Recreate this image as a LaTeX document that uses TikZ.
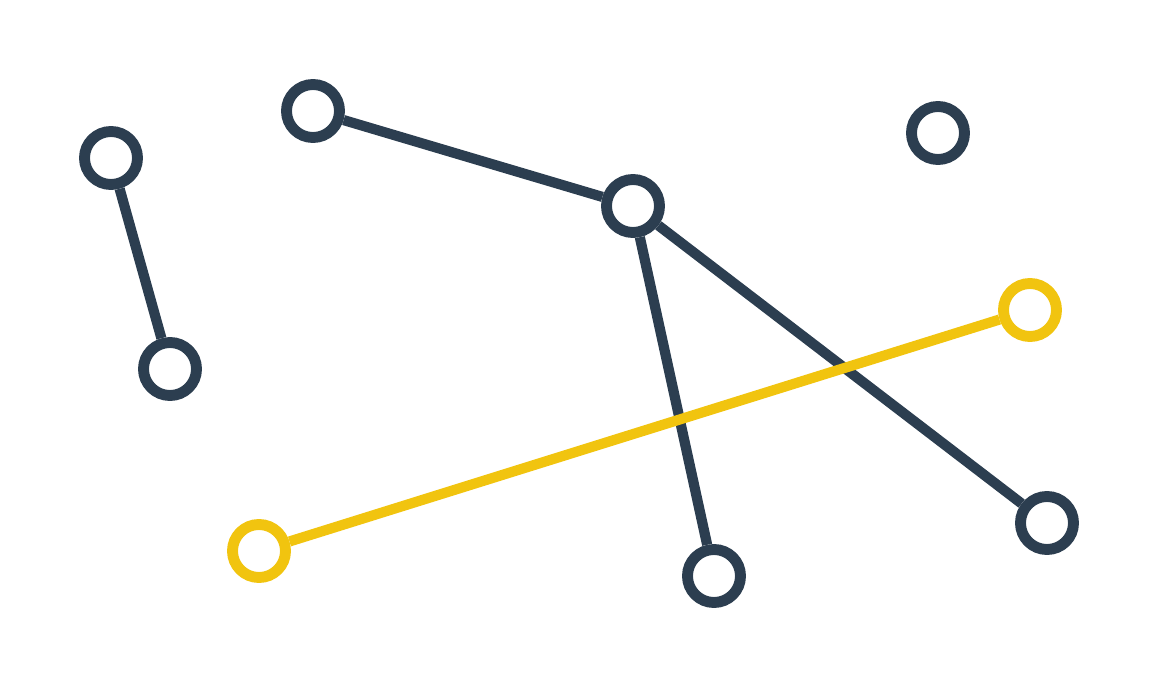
\documentclass[tikz,border=0pt]{standalone}
\usetikzlibrary{positioning}

\definecolor{navy}{HTML}{2C3E50}
\definecolor{sun}{HTML}{F1C40F}

\tikzset{
  dot/.style={circle, draw=navy, fill=white, line width=3.1pt, minimum size=0.53cm, inner sep=0pt},
  sundot/.style={dot, draw=sun},
  link/.style={navy, line width=2.9pt},
  sunlink/.style={sun, line width=2.9pt}
}

\begin{document}
\begin{tikzpicture}[x=0.01cm,y=-0.01cm]
    \useasboundingbox (0,0) rectangle (1159,688);

      \node(a) at (111,158) [dot] {};
      \node(b) at (170,369) [dot] {};
      \node(c) at (313,111) [dot] {};
      \node(d) at (633,206) [dot] {};
      \node(e) at (938,133) [dot] {};
      \node(h) at (714,576) [dot] {};
      \node(i) at (1047,523) [dot] {};

      \node(f) at (1030,310) [sundot] {};
      \node(g) at (259,551) [sundot] {};

    \draw[link] (a) -- (b);
    \draw[link] (c) -- (d);
    \draw[link] (d) -- (h);
    \draw[link] (d) -- (i);
    \draw[sunlink] (g) -- (f);
  \end{tikzpicture}
\end{document}
